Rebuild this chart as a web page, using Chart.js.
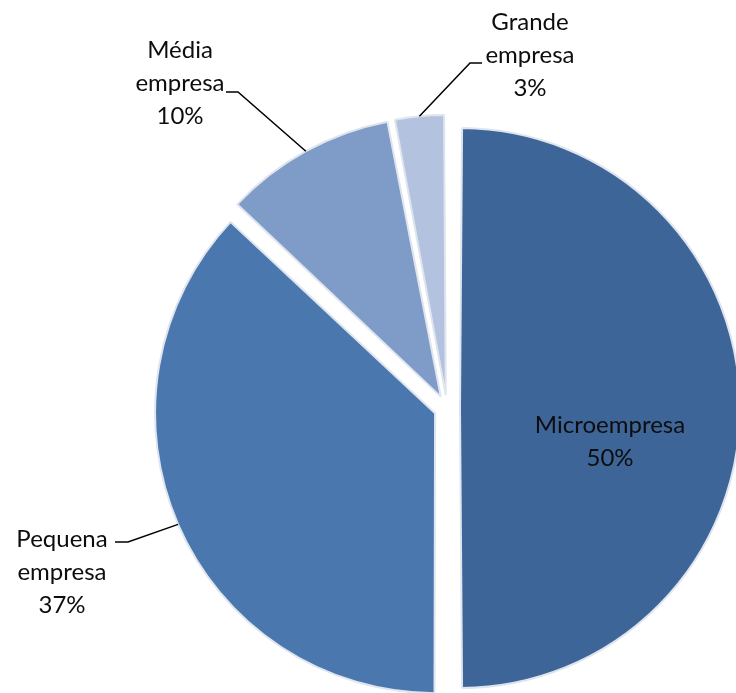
<!DOCTYPE html>
<html>
<head>
<meta charset="utf-8">
<script src="https://cdn.jsdelivr.net/npm/chart.js@4.4.1/dist/chart.umd.min.js"></script>
<style>
  html, body { margin: 0; padding: 0; background: #fff; }
  #c { display: block; }
</style>
</head>
<body>
<canvas id="c" width="736" height="693"></canvas>
<script>
// Data
const categories = ['Microempresa', 'Pequena empresa', 'Média empresa', 'Grande empresa'];
const shares = [50, 37, 10, 3];
const sliceColors = ['#3e6597', '#4a77ae', '#7f9bc7', '#b3c2de'];

// Label placement (text centre + elbow of the leader), not data
const labelLayout = [
  { inside: true, x: 610, y: 442, lines: ['Microempresa', '50%'] },
  { x: 62, y: 572, lines: ['Pequena', 'empresa', '37%'], elbow: [[115, 542], [128, 542]] },
  { x: 180, y: 83, lines: ['Média', 'empresa', '10%'], elbow: [[226, 92], [238, 92]] },
  { x: 530, y: 55, lines: ['Grande', 'empresa', '3%'], elbow: [[482, 63], [470, 63]] }
];

const FONT = '24px Lato, "Open Sans", sans-serif';
const LINE_H = 33;
const EXPLODE = 52;   // Chart.js v4 draws offset / 4
const RADIUS = 280;

// v4 grows each exploded arc by (offset/4)*(1 - sin(circumference)); undo that
// so every slice keeps the same radius like the original.
const evenRadius = {
  id: 'evenRadius',
  beforeDatasetsDraw(chart) {
    chart.getDatasetMeta(0).data.forEach(function (arc) {
      const circ = arc.endAngle - arc.startAngle;
      const fix = 1 - Math.sin(Math.min(Math.PI, circ));
      arc.outerRadius = RADIUS - (EXPLODE / 4) * fix;
    });
  }
};

const pieLabels = {
  id: 'pieLabels',
  afterDatasetsDraw(chart) {
    const ctx = chart.ctx;
    const arcs = chart.getDatasetMeta(0).data;
    ctx.save();
    ctx.font = FONT;
    ctx.fillStyle = '#0d0d0d';
    ctx.textAlign = 'center';
    ctx.textBaseline = 'middle';
    arcs.forEach(function (arc, i) {
      const lay = labelLayout[i];
      if (!lay) return;
      if (!lay.inside) {
        const mid = (arc.startAngle + arc.endAngle) / 2;
        const off = EXPLODE / 4;
        const ex = arc.x + Math.cos(mid) * (off + RADIUS);
        const ey = arc.y + Math.sin(mid) * (off + RADIUS);
        ctx.beginPath();
        ctx.strokeStyle = '#000';
        ctx.lineWidth = 1.5;
        ctx.moveTo(lay.elbow[0][0], lay.elbow[0][1]);
        ctx.lineTo(lay.elbow[1][0], lay.elbow[1][1]);
        ctx.lineTo(ex, ey);
        ctx.stroke();
      }
      const n = lay.lines.length;
      lay.lines.forEach(function (t, k) {
        ctx.fillText(t, lay.x, lay.y + (k - (n - 1) / 2) * LINE_H);
      });
    });
    ctx.restore();
  }
};

new Chart(document.getElementById('c'), {
  type: 'pie',
  data: {
    labels: categories,
    datasets: [{
      data: shares,
      backgroundColor: sliceColors,
      borderColor: '#dfe5ee',
      borderWidth: 2,
      offset: EXPLODE,
      radius: RADIUS,
      clip: false
    }]
  },
  options: {
    responsive: false,
    animation: false,
    layout: { padding: { left: 158, right: 0, top: 123, bottom: 0 } },
    plugins: { legend: { display: false }, tooltip: { enabled: false } }
  },
  plugins: [evenRadius, pieLabels]
});
</script>
</body>
</html>
